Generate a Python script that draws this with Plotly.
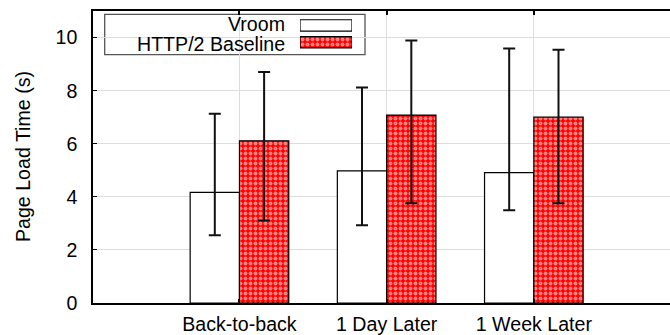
import plotly.graph_objects as go

categories = ["Back-to-back", "1 Day Later", "1 Week Later"]
series_names = ["Vroom", "HTTP/2 Baseline"]
vroom_mean = [4.17, 4.98, 4.91]
vroom_hi = [7.13, 8.12, 9.59]
vroom_lo = [2.55, 2.93, 3.49]
h2_mean = [6.11, 7.08, 7.00]
h2_hi = [8.70, 9.89, 9.54]
h2_lo = [3.11, 3.76, 3.76]
y_ticks = [0, 2, 4, 6, 8, 10]

W, H = 670, 335
L, R, T, B = 93, 0, 11, 30
PW, PH = W - L - R, H - T - B
FONT = "Liberation Sans, Arial, sans-serif"
FS = 19.6

def px_x(p):
    return (p - L) / PW

def px_y(p):
    return (H - B - p) / PH

xpos = list(range(len(categories)))
bw = 0.335
PAT = dict(shape=".", fgcolor="white", bgcolor="#ff0000", size=5, solidity=0.5)

fig = go.Figure()
fig.add_trace(go.Bar(
    x=xpos, y=vroom_mean, width=bw, offset=-bw, name=series_names[0],
    marker=dict(color="white", line=dict(color="black", width=1.2)),
    error_y=dict(type="data", symmetric=False,
                 array=[h - m for h, m in zip(vroom_hi, vroom_mean)],
                 arrayminus=[m - l for m, l in zip(vroom_mean, vroom_lo)],
                 color="#111", thickness=2, width=6),
    showlegend=False,
))
fig.add_trace(go.Bar(
    x=xpos, y=h2_mean, width=bw, offset=0, name=series_names[1],
    marker=dict(color="#ff0000", line=dict(color="black", width=1.2), pattern=PAT),
    error_y=dict(type="data", symmetric=False,
                 array=[h - m for h, m in zip(h2_hi, h2_mean)],
                 arrayminus=[m - l for m, l in zip(h2_mean, h2_lo)],
                 color="#111", thickness=2, width=6),
    showlegend=False,
))

# legend swatches on an overlay axis
fig.add_trace(go.Bar(
    x=[1], y=[1], orientation="h", width=0.667, xaxis="x2", yaxis="y2",
    marker=dict(color="white", line=dict(color="black", width=1.2)),
    showlegend=False, hoverinfo="skip",
))
fig.add_trace(go.Bar(
    x=[1], y=[0], orientation="h", width=0.667, xaxis="x2", yaxis="y2",
    marker=dict(color="#ff0000", line=dict(color="black", width=1.2), pattern=PAT),
    showlegend=False, hoverinfo="skip",
))

fig.update_layout(
    width=W, height=H,
    margin=dict(l=L, r=R, t=T, b=B),
    plot_bgcolor="white", paper_bgcolor="white",
    font=dict(family=FONT, size=FS, color="black"),
    barmode="overlay",
    xaxis=dict(
        range=[-0.995, 2.925], tickmode="array", tickvals=xpos, ticktext=categories,
        showgrid=True, gridcolor="#dddddd", gridwidth=1,
        showline=True, linecolor="black", linewidth=1.5, mirror="ticks",
        ticks="inside", ticklen=4, tickcolor="black", tickwidth=1.5,
        ticklabelstandoff=3, zeroline=False,
    ),
    yaxis=dict(
        range=[0, 11], tickmode="array", tickvals=y_ticks,
        showgrid=True, gridcolor="#dddddd", gridwidth=1,
        showline=True, linecolor="black", linewidth=1.5,
        ticks="inside", ticklen=4, tickcolor="black", tickwidth=1.2,
        ticklabelstandoff=10, zeroline=False,
    ),
    xaxis2=dict(domain=[px_x(300), px_x(352)], range=[0, 1], visible=False, anchor="y2", fixedrange=True),
    yaxis2=dict(domain=[px_y(51), px_y(17)], range=[-0.5, 1.5], visible=False, anchor="x2", fixedrange=True),
    shapes=[
        dict(type="rect", xref="paper", yref="paper",
             x0=px_x(104.7), x1=px_x(365), y0=px_y(55), y1=px_y(14.3),
             line=dict(color="#555", width=1.3), fillcolor="rgba(0,0,0,0)", layer="below"),
    ],
    annotations=[
        dict(text="Page Load Time (s)", xref="paper", yref="paper",
             x=px_x(23), y=px_y(158), xanchor="center", yanchor="middle",
             textangle=-90, showarrow=False, font=dict(size=FS)),
        dict(text=series_names[0], xref="paper", yref="paper",
             x=px_x(287), y=px_y(24.5), xanchor="right", yanchor="middle",
             showarrow=False, font=dict(size=FS)),
        dict(text=series_names[1], xref="paper", yref="paper",
             x=px_x(287), y=px_y(44.5), xanchor="right", yanchor="middle",
             showarrow=False, font=dict(size=FS)),
    ],
)

fig.write_html("out.html")
